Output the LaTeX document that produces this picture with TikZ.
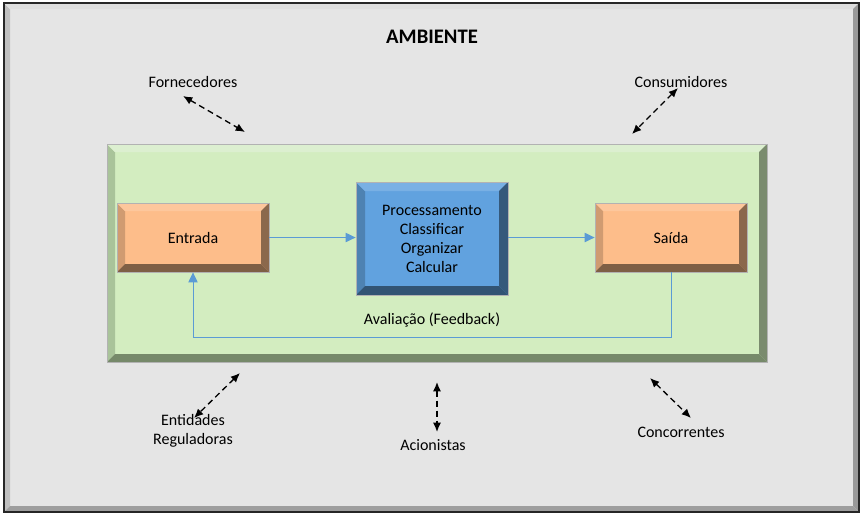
\documentclass[tikz,border=0pt]{standalone}
\usepackage{fontspec}
\setmainfont{Carlito}
\usepackage{xcolor}
\usetikzlibrary{arrows.meta, positioning, calc}

\definecolor{fundo}{HTML}{E5E5E5}
\definecolor{verde}{HTML}{D3EDC0}
\definecolor{verdeesq}{HTML}{A9C39A}
\definecolor{verdetopo}{HTML}{DCEFD0}
\definecolor{verdedir}{HTML}{7A8B6E}
\definecolor{verdebase}{HTML}{76896A}
\definecolor{laranja}{HTML}{FDBD8A}
\definecolor{azul}{HTML}{61A2DF}
\definecolor{seta}{HTML}{5B9BD5}

\tikzset{
  every node/.style={font=\fontsize{12}{14.25}\selectfont},
  % faces of a bevelled box: width, left, top, right, bottom
  bevelbox/.style n args={5}{path picture={
    \fill[#2] (path picture bounding box.north west) -- (path picture bounding box.south west)
      -- ([shift={(#1,-#1)}]path picture bounding box.south west)
      -- ([shift={(#1,#1)}]path picture bounding box.north west) -- cycle;
    \fill[#3] (path picture bounding box.north west) -- (path picture bounding box.north east)
      -- ([shift={(-#1,#1)}]path picture bounding box.north east)
      -- ([shift={(#1,#1)}]path picture bounding box.north west) -- cycle;
    \fill[#4] (path picture bounding box.north east) -- (path picture bounding box.south east)
      -- ([shift={(-#1,-#1)}]path picture bounding box.south east)
      -- ([shift={(-#1,#1)}]path picture bounding box.north east) -- cycle;
    \fill[#5] (path picture bounding box.south west) -- (path picture bounding box.south east)
      -- ([shift={(-#1,-#1)}]path picture bounding box.south east)
      -- ([shift={(#1,-#1)}]path picture bounding box.south west) -- cycle;
  }},
  moldura/.style={fill=fundo, draw=black!85, line width=1pt, minimum width=641.25pt, minimum height=381.75pt,
    bevelbox={6}{black!25}{black!13}{black!40}{black!38}},
  sistemabox/.style={fill=verde, draw=black!30, line width=0.6pt, minimum width=495pt, minimum height=163.5pt,
    bevelbox={8}{verdeesq}{verdetopo}{verdedir}{verdebase}},
  ioBox/.style={fill=laranja, draw=black!30, line width=0.6pt, minimum width=114pt, minimum height=51.75pt,
    bevelbox={8}{laranja!82!black}{laranja!85!white}{laranja!55!black}{laranja!50!black}},
  procBox/.style={fill=azul, draw=black!30, line width=0.6pt, minimum width=114pt, minimum height=84.75pt,
    align=center, bevelbox={9}{azul!80!black}{azul!85!white}{azul!55!black}{azul!52!black}},
  fluxo/.style={draw=seta, line width=0.75pt, -{Triangle[length=7.5pt,width=7pt]}},
  relacao/.style={draw=black, line width=1pt, dash pattern=on 4.5pt off 3pt,
    {Latex[length=7pt,width=6pt]}-{Latex[length=7pt,width=6pt]}},
}

\begin{document}
\begin{tikzpicture}[x=0.75pt, y=-0.75pt]
  \useasboundingbox (0,0) rectangle (866,519);
  \node[moldura] (frame) at (431.5,257.5) {};
  \node[font=\fontsize{15.5}{18}\selectfont\bfseries] (ambiente) at (432,37) {AMBIENTE};

  \node[sistemabox] (sistema) at (437,253) {};
  \node[ioBox] (entrada) at (193,237.5) {Entrada};
  \node[procBox] (proc) at (432,238.5) {Processamento\\Classificar\\Organizar\\Calcular};
  \node[ioBox] (saida) at (671,237.5) {Saída};
  \node (avaliacao) at (432,320) {Avaliação (Feedback)};

  \draw[fluxo] (entrada.east) -- (entrada.east -| proc.west);
  \draw[fluxo] (proc.east |- saida.west) -- (saida.west);
  \draw[fluxo] (saida.south) -- ++(0,65) -| (entrada.south);

  % agentes externos
  \node (fornecedores) at (193,82) {Fornecedores};
  \node (consumidores) at (681,82) {Consumidores};
  \node[align=center] (entidades) at (193,431) {Entidades\\Reguladoras};
  \node (acionistas) at (433,445) {Acionistas};
  \node (concorrentes) at (681,432) {Concorrentes};

  \coordinate (f1) at (183,96);  \coordinate (f2) at (245,132);
  \coordinate (c1) at (678,88);  \coordinate (c2) at (632,134);
  \coordinate (e1) at (240,373); \coordinate (e2) at (194,418);
  \coordinate (a1) at (437,382); \coordinate (a2) at (437,432);
  \coordinate (k1) at (650,378); \coordinate (k2) at (691,418);
  \draw[relacao] (f1) -- (f2);
  \draw[relacao] (c1) -- (c2);
  \draw[relacao] (e1) -- (e2);
  \draw[relacao] (a1) -- (a2);
  \draw[relacao] (k1) -- (k2);
\end{tikzpicture}
\end{document}
